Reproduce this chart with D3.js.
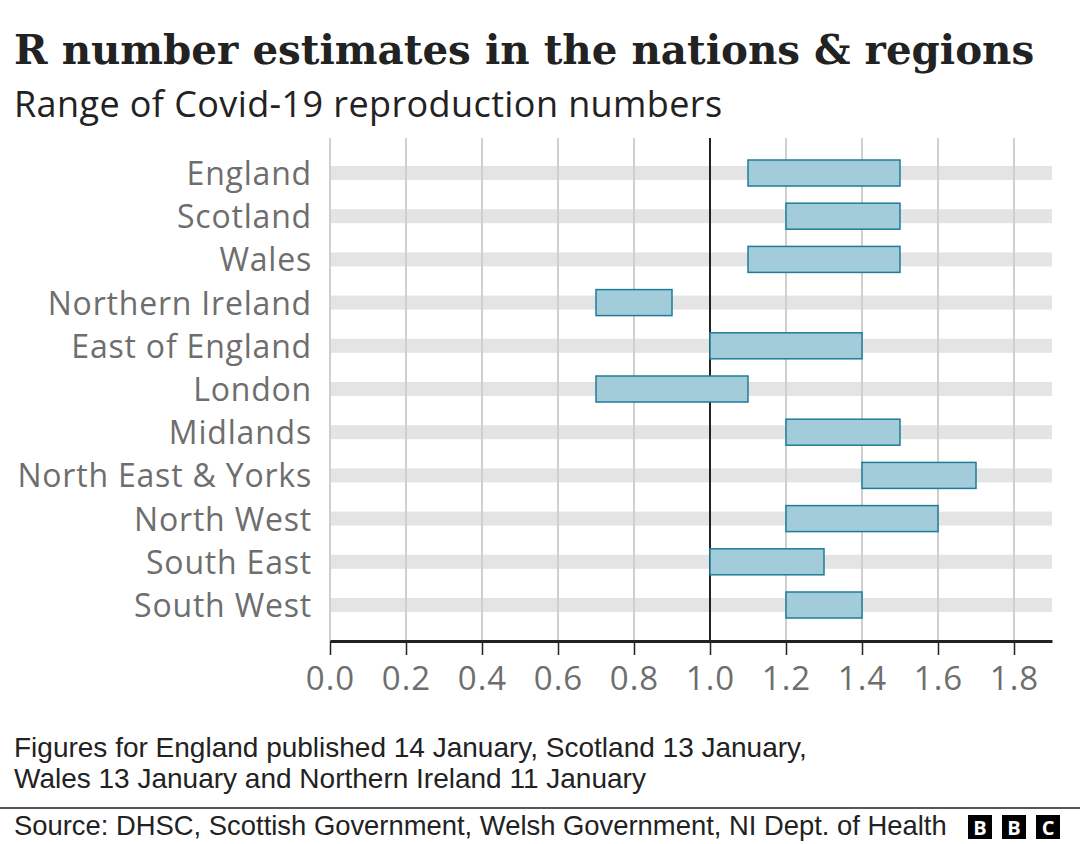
<!DOCTYPE html>
<html><head><meta charset="utf-8">
<script src="https://cdn.jsdelivr.net/npm/d3@7"></script>
<style>body{margin:0;background:#fff}svg{display:block}</style>
</head><body>
<svg id="c" width="1080" height="844"></svg>
<script>
const regions = ["England","Scotland","Wales","Northern Ireland","East of England","London","Midlands","North East & Yorks","North West","South East","South West"];
const lower = [1.1,1.2,1.1,0.7,1.0,0.7,1.2,1.4,1.2,1.0,1.2];
const upper = [1.5,1.5,1.5,0.9,1.4,1.1,1.5,1.7,1.6,1.3,1.4];
const ticks = [0,0.2,0.4,0.6,0.8,1.0,1.2,1.4,1.6,1.8];
const title = "R number estimates in the nations & regions";
const subtitle = "Range of Covid-19 reproduction numbers";
const note1 = "Figures for England published 14 January, Scotland 13 January,";
const note2 = "Wales 13 January and Northern Ireland 11 January";
const source = "Source: DHSC, Scottish Government, Welsh Government, NI Dept. of Health";

const svg = d3.select("#c");
const x = d3.scaleLinear().domain([0,1.9]).range([330,1052]);
const y = d3.scaleBand().domain(regions).range([151.4,626.6]).paddingInner(0).paddingOuter(0);
const axisY = 641;
const sans = "'Open Sans', sans-serif";
const narrow = "'Liberation Sans Narrow', 'Arial Narrow', 'Liberation Sans', sans-serif";

svg.append("text").attr("x",14).attr("y",64).text(title)
  .attr("font-family","'DejaVu Serif', serif").attr("font-weight","bold").attr("font-size",40.4).attr("fill","#222");
svg.append("text").attr("x",14).attr("y",117).text(subtitle)
  .attr("font-family",sans).attr("font-size",36).attr("letter-spacing",0.4).attr("fill","#222");

// grey bands
svg.append("g").selectAll("rect").data(regions).join("rect")
  .attr("x",x(0)).attr("width",x(1.9)-x(0))
  .attr("y",d=>y(d)+y.bandwidth()/2-7).attr("height",14).attr("fill","#e4e4e4");

// gridlines
svg.append("g").selectAll("line").data(ticks.filter(t=>t!==1)).join("line")
  .attr("x1",d=>x(d)).attr("x2",d=>x(d)).attr("y1",138).attr("y2",axisY)
  .attr("stroke","#cfcfcf").attr("stroke-width",2);
svg.append("line").attr("x1",x(1)).attr("x2",x(1)).attr("y1",138).attr("y2",axisY)
  .attr("stroke","#222").attr("stroke-width",2);

// bars
svg.append("g").selectAll("rect").data(regions).join("rect")
  .attr("x",(d,i)=>x(lower[i])).attr("width",(d,i)=>x(upper[i])-x(lower[i]))
  .attr("y",d=>y(d)+y.bandwidth()/2-13).attr("height",26)
  .attr("fill","#a2ccd9").attr("stroke","#1f7c98").attr("stroke-width",1.5);

// labels
svg.append("g").selectAll("text").data(regions).join("text")
  .attr("x",312).attr("y",d=>y(d)+y.bandwidth()/2+12)
  .attr("text-anchor","end").text(d=>d)
  .attr("font-family",sans).attr("font-size",32).attr("letter-spacing",0.8).attr("fill","#6e6e6e");

// x axis
const ax = svg.append("g").attr("transform",`translate(0,${axisY})`)
  .call(d3.axisBottom(x).tickValues(ticks).tickFormat(d3.format(".1f")).tickSize(14).tickSizeOuter(0).tickPadding(12));
ax.select(".domain").attr("stroke","#222").attr("stroke-width",3);
ax.selectAll(".tick line").attr("stroke","#222").attr("stroke-width",1.5);
ax.selectAll(".tick text").attr("font-family",sans).attr("font-size",33).attr("letter-spacing",1).attr("fill","#6e6e6e");

// notes
const noteG = svg.append("g").attr("font-family",narrow).attr("fill","#222");
noteG.append("text").attr("x",14).attr("y",757).attr("font-size",28).text(note1);
noteG.append("text").attr("x",14).attr("y",788).attr("font-size",28).text(note2);
svg.append("line").attr("x1",0).attr("x2",1080).attr("y1",808).attr("y2",808).attr("stroke","#222").attr("stroke-width",1.5);
noteG.append("text").attr("x",14).attr("y",835).attr("font-size",27.4).text(source);

// BBC logo
const logo = svg.append("g");
["B","B","C"].forEach((l,i)=>{
  logo.append("rect").attr("x",968+i*34).attr("y",815).attr("width",24).attr("height",24).attr("fill","#000");
  logo.append("text").attr("x",968+i*34+12).attr("y",835).attr("text-anchor","middle").text(l)
    .attr("font-family",sans).attr("font-weight","bold").attr("font-size",20).attr("fill","#fff");
});
</script>
</body></html>
